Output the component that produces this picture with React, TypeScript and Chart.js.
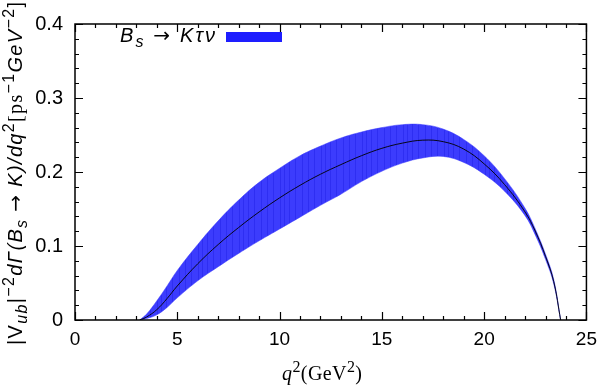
import React, { useEffect, useRef } from "react";
import { Chart, registerables } from "chart.js";

Chart.register(...registerables);

// Differential decay rate of B_s -> K tau nu, in units of |V_ub|^2 ps^-1 GeV^-2
const q2 = [3.16, 3.5, 4, 4.5, 5, 6, 7, 8, 9, 10, 11, 12, 13, 14, 15, 16, 17, 18, 19, 20, 21, 22, 22.5, 23, 23.4, 23.74];
const central = [0, 0.004, 0.014, 0.029, 0.046, 0.076, 0.102, 0.125, 0.146, 0.165, 0.182, 0.197, 0.21, 0.222, 0.232, 0.239, 0.243, 0.241, 0.231, 0.211, 0.183, 0.146, 0.12, 0.086, 0.052, 0];
const upper = [0, 0.008, 0.026, 0.046, 0.067, 0.102, 0.134, 0.162, 0.186, 0.205, 0.222, 0.235, 0.246, 0.254, 0.26, 0.264, 0.264, 0.258, 0.244, 0.222, 0.191, 0.151, 0.123, 0.089, 0.055, 0];
const lower = [0, 0.002, 0.007, 0.017, 0.03, 0.053, 0.072, 0.09, 0.107, 0.123, 0.139, 0.155, 0.17, 0.187, 0.201, 0.212, 0.219, 0.221, 0.213, 0.197, 0.174, 0.141, 0.115, 0.082, 0.049, 0];

const xTicks = [0, 5, 10, 15, 20, 25];
const yTicks = [0, 0.1, 0.2, 0.3, 0.4];

const BAND = "rgb(60,60,253)";
const BAND_DARK = "rgb(46,46,242)";
const LEGEND_FILL = "rgb(30,30,255)";
const SANS = "'Liberation Sans', Arial, sans-serif";
const SERIF = "'Liberation Serif', 'Times New Roman', serif";
const SYMBOL = "'DejaVu Sans', sans-serif";

type Seg = { t: string; i?: boolean; serif?: boolean; sym?: boolean; pos?: "sub" | "sup" };

function segFont(s: Seg, size: number) {
  const sz = s.pos ? Math.round(size * 0.78) : size;
  const fam = s.sym ? SYMBOL : s.serif ? SERIF : SANS;
  return `${s.i ? "italic " : ""}${sz}px ${fam}`;
}

// Draws mixed-style text so that it spans the given width, spreading the letters evenly.
function drawRich(ctx: CanvasRenderingContext2D, segs: Seg[], x: number, y: number, size: number, width: number) {
  let base = 0;
  let n = 0;
  for (const s of segs) {
    ctx.font = segFont(s, size);
    for (const ch of Array.from(s.t)) {
      base += ctx.measureText(ch).width;
      n++;
    }
  }
  const gap = n > 1 ? (width - base) / (n - 1) : 0;
  let cx = x;
  ctx.textBaseline = "alphabetic";
  ctx.textAlign = "left";
  for (const s of segs) {
    ctx.font = segFont(s, size);
    const dy = s.pos === "sup" ? -size * 0.42 : s.pos === "sub" ? size * 0.24 : 0;
    for (const ch of Array.from(s.t)) {
      ctx.fillText(ch, cx, y + dy);
      cx += ctx.measureText(ch).width + gap;
    }
  }
}

const yLabel: Seg[] = [
  { t: "|V" },
  { t: "ub", i: true, pos: "sub" },
  { t: "|" },
  { t: "−2", pos: "sup" },
  { t: "dΓ(B", i: true },
  { t: "s", i: true, pos: "sub" },
  { t: " " },
  { t: "→", sym: true },
  { t: " " },
  { t: "K)/dq", i: true },
  { t: "2", pos: "sup" },
  { t: "[ps", serif: true },
  { t: "−1", pos: "sup" },
  { t: "GeV", i: true },
  { t: "−2", pos: "sup" },
  { t: "]" },
];

const xLabel: Seg[] = [
  { t: "q", i: true, serif: true },
  { t: "2", serif: true, pos: "sup" },
  { t: "(GeV", serif: true },
  { t: "2", serif: true, pos: "sup" },
  { t: ")", serif: true },
];

const legendLabel: Seg[] = [
  { t: "B", i: true },
  { t: "s", i: true, pos: "sub" },
  { t: " " },
  { t: "→", sym: true },
  { t: " " },
  { t: "Kτν", i: true },
];

// Fine vertical shading of the error band
function bandPattern(): CanvasPattern | string {
  const c = document.createElement("canvas");
  c.width = 41;
  c.height = 4;
  const g = c.getContext("2d");
  if (!g) return BAND;
  g.fillStyle = BAND;
  g.fillRect(0, 0, c.width, c.height);
  g.fillStyle = BAND_DARK;
  for (const col of [2, 8, 15, 21, 27, 34, 38]) g.fillRect(col, 0, 1, c.height);
  return g.createPattern(c, "repeat") || BAND;
}

const framePlugin = {
  id: "frame",
  afterDatasetsDraw(chart: any) {
    const { ctx, chartArea: a, scales } = chart;
    const xs = scales.x;
    const ys = scales.y;
    ctx.save();
    ctx.strokeStyle = "#000";
    ctx.lineWidth = 1.2;
    ctx.beginPath();
    for (let v = 0; v <= 25; v += 1) {
      const px = Math.round(xs.getPixelForValue(v)) + 0.5;
      const len = v % 5 === 0 ? 8 : 4;
      ctx.moveTo(px, a.bottom);
      ctx.lineTo(px, a.bottom - len);
      ctx.moveTo(px, a.top);
      ctx.lineTo(px, a.top + len);
    }
    for (let k = 0; k <= 20; k++) {
      const py = Math.round(ys.getPixelForValue(k * 0.02)) + 0.5;
      const len = k % 5 === 0 ? 8 : 4;
      ctx.moveTo(a.left, py);
      ctx.lineTo(a.left + len, py);
      ctx.moveTo(a.right, py);
      ctx.lineTo(a.right - len, py);
    }
    ctx.stroke();
    ctx.lineWidth = 1.5;
    ctx.strokeRect(a.left, a.top, a.right - a.left, a.bottom - a.top);

    // key
    ctx.fillStyle = "#000";
    drawRich(ctx, legendLabel, 120, 42, 20, 95);
    ctx.fillStyle = LEGEND_FILL;
    ctx.fillRect(226, 32, 56, 10);

    // axis titles
    ctx.fillStyle = "#000";
    drawRich(ctx, xLabel, 282, 380, 20, 80);

    ctx.save();
    ctx.translate(22, 345);
    ctx.rotate(-Math.PI / 2);
    drawRich(ctx, yLabel, 0, 0, 20, 343);
    ctx.restore();
    ctx.restore();
  },
};

export default function App() {
  const ref = useRef<HTMLCanvasElement | null>(null);

  useEffect(() => {
    if (!ref.current) return;
    const pts = (ys: number[]) => q2.map((x, i) => ({ x, y: ys[i] }));
    const fillStyle = bandPattern();
    const chart = new Chart(ref.current, {
      type: "line",
      data: {
        datasets: [
          {
            data: pts(central),
            borderColor: "#000",
            borderWidth: 0.9,
            fill: false,
            pointRadius: 0,
            tension: 0.4,
          },
          {
            data: pts(upper),
            borderColor: BAND,
            borderWidth: 0.5,
            backgroundColor: fillStyle as any,
            fill: "+1",
            pointRadius: 0,
            tension: 0.4,
          },
          {
            data: pts(lower),
            borderColor: BAND,
            borderWidth: 0.5,
            fill: false,
            pointRadius: 0,
            tension: 0.4,
          },
        ],
      },
      options: {
        responsive: false,
        animation: false,
        layout: { padding: { top: 21, right: 14, left: 0, bottom: 0 } },
        plugins: { legend: { display: false }, tooltip: { enabled: false } },
        scales: {
          x: {
            type: "linear",
            min: 0,
            max: 25,
            grid: { display: false, drawTicks: false },
            border: { display: false },
            afterBuildTicks: (s: any) => {
              s.ticks = xTicks.map((value) => ({ value }));
            },
            ticks: {
              padding: 8,
              color: "#000",
              font: { family: SANS, size: 19 },
              maxRotation: 0,
              callback: (v: any) => String(v),
            },
            afterFit: (s: any) => {
              s.height = 66;
            },
          },
          y: {
            type: "linear",
            min: 0,
            max: 0.4,
            grid: { display: false, drawTicks: false },
            border: { display: false },
            afterBuildTicks: (s: any) => {
              s.ticks = yTicks.map((value) => ({ value }));
            },
            ticks: {
              padding: 12,
              color: "#000",
              font: { family: SANS, size: 20 },
              callback: (v: any) => (Number(v) === 0 ? "0" : Number(v).toFixed(1)),
            },
            afterFit: (s: any) => {
              s.width = 75;
            },
          },
        },
      },
      plugins: [framePlugin],
    });
    return () => chart.destroy();
  }, []);

  return (
    <div style={{ position: "absolute", left: 0, top: 0, width: 605, height: 386, background: "#fff" }}>
      <canvas ref={ref} width={605} height={386} style={{ display: "block" }} />
    </div>
  );
}
